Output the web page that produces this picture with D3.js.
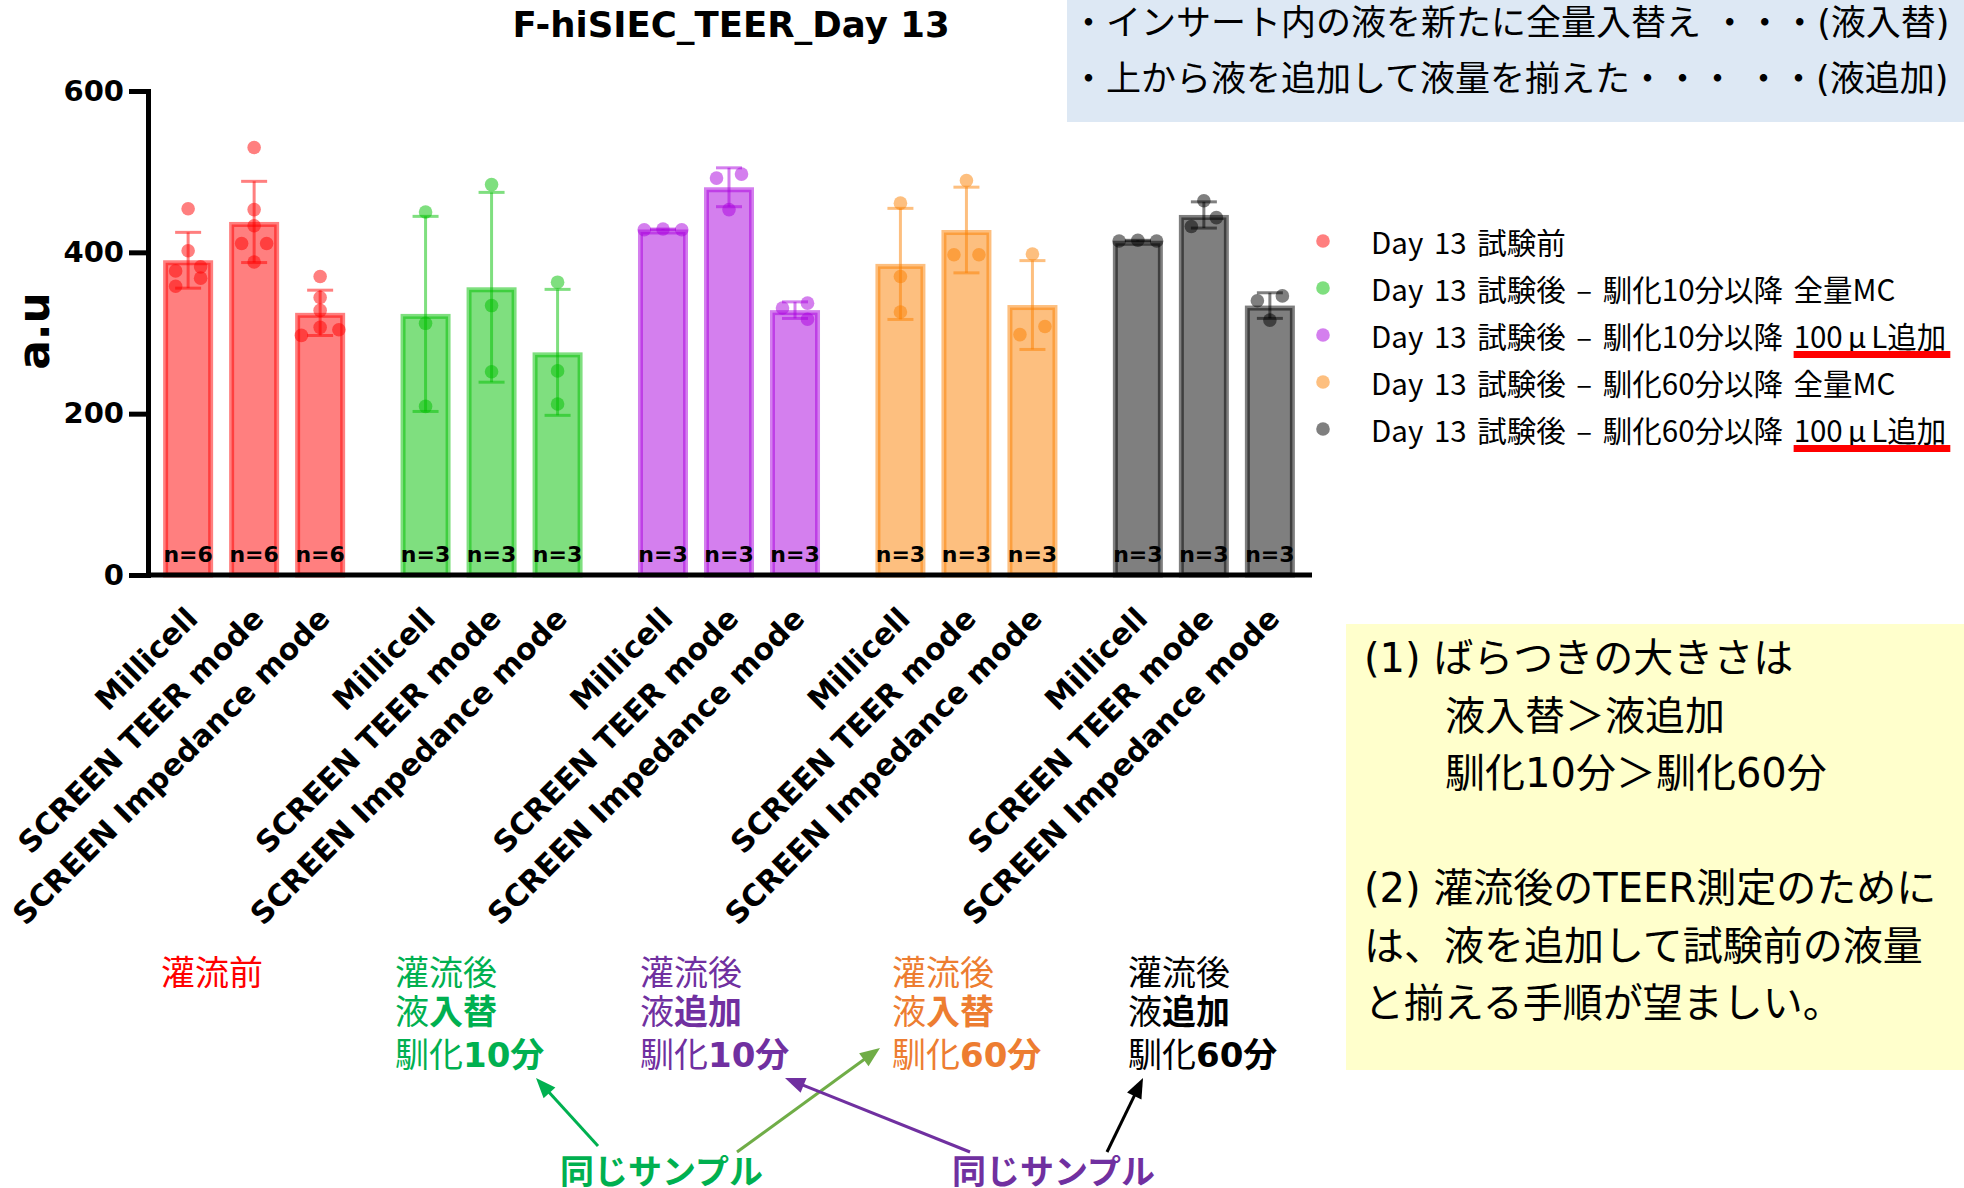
<!DOCTYPE html>
<html><head><meta charset="utf-8">
<script src="https://cdn.jsdelivr.net/npm/d3@7"></script>
<style>
html,body{margin:0;padding:0;background:#fff;}
svg{display:block;}
text{white-space:pre;}
</style></head><body>
<svg id="c" width="1964" height="1188"></svg>
<script>
// ---------------- data ----------------
const yTicks = [0, 200, 400, 600];
const methods = ["Millicell", "SCREEN TEER mode", "SCREEN Impedance mode"];
const legendMain = ["Day 13 試験前", "Day 13 試験後 – 馴化10分以降 全量MC", "Day 13 試験後 – 馴化10分以降 ", "Day 13 試験後 – 馴化60分以降 全量MC", "Day 13 試験後 – 馴化60分以降 "];
const legendUnderlined = [null, null, ["100", "μ", "L追加"], null, ["100", "μ", "L追加"]];
const valuesPre   = [[454,402,382,377,368,358],[530,453,433,411,411,388],[370,344,328,307,304,297]];
const valuesMC10  = [[450,312,209],[484,334,252],[363,253,212]];
const valuesAdd10 = [[429,428,428],[497,492,453],[337,331,317]];
const valuesMC60  = [[461,370,326],[489,397,397],[398,308,298]];
const valuesAdd60 = [[415,414,414],[464,443,432],[346,340,316]];
const seriesValues = [valuesPre, valuesMC10, valuesAdd10, valuesMC60, valuesAdd60];
const condTitle  = ["灌流前", "灌流後", "灌流後", "灌流後", "灌流後"];
const condLiquid = ["", "入替", "追加", "入替", "追加"];
const condTime   = ["", "10分", "10分", "60分", "60分"];
const noteTop = ["・インサート内の液を新たに全量入替え ・・・(液入替)", "・上から液を追加して液量を揃えた・・・ ・・(液追加)"];
const noteBox = ["(1) ばらつきの大きさは", "液入替＞液追加", "馴化10分＞馴化60分", "", "(2) 灌流後のTEER測定のために", "は、液を追加して試験前の液量", "と揃える手順が望ましい。"];
const sameSample = "同じサンプル";
const chartTitle = "F-hiSIEC_TEER_Day 13";
const yLabel = "a.u";

// ---------------- styles ----------------
const seriesColors = ["#ff0000", "#00c000", "#aa00dd", "#fb8000", "#000000"];
const condColors = ["#ff0000", "#00b050", "#7030a0", "#ed7d31", "#000000"];
const LAT = "'DejaVu Sans', Verdana, sans-serif";
const JP = "'Noto Sans CJK JP', 'Noto Sans', sans-serif";
const MEI = "'DejaVu Sans', 'Noto Sans CJK JP', sans-serif";

const svg = d3.select("#c");
svg.append("rect").attr("width", 1964).attr("height", 1188).attr("fill", "#fff");

// ---------------- scales ----------------
const y = d3.scaleLinear().domain([0, 600]).range([575, 91]);
const xg = d3.scaleBand().domain(d3.range(5)).range([148, 1310]).paddingInner(0.166).paddingOuter(0.03);
const xi = d3.scaleBand().domain(d3.range(3)).range([0, xg.bandwidth()]).paddingInner(0.2424).paddingOuter(0.1212);

function jitter(vals) {
  const idx = vals.map((v, i) => i).sort((a, b) => vals[b] - vals[a]);
  const off = new Array(vals.length).fill(0);
  const clusters = [];
  let cur = [idx[0]];
  for (let k = 1; k < idx.length; k++) {
    const gap = y(vals[idx[k]]) - y(vals[idx[k - 1]]);
    if (gap < 12) cur.push(idx[k]); else { clusters.push(cur); cur = [idx[k]]; }
  }
  clusters.push(cur);
  const s = 12.5;
  clusters.forEach(c => {
    if (c.length === 1) return;
    const spread = y(vals[c[c.length - 1]]) - y(vals[c[0]]);
    if (c.length % 2 === 1 && spread < 10) {
      c.forEach((id, k) => { off[id] = k === 0 ? 0 : (k % 2 === 1 ? 1 : -1) * 1.5 * s * Math.ceil(k / 2); });
    } else {
      c.forEach((id, k) => { off[id] = (k % 2 === 0 ? 1 : -1) * s; });
    }
  });
  return off;
}

const bars = [];
seriesValues.forEach((sv, s) => sv.forEach((vals, j) => {
  bars.push({ s, j, vals, mean: d3.mean(vals), sd: d3.deviation(vals), n: vals.length,
              x: xg(s) + xi(j), cx: xg(s) + xi(j) + xi.bandwidth() / 2, off: jitter(vals) });
}));

// ---------------- bars ----------------
const SW = 5;
const gBars = svg.append("g");
gBars.selectAll("rect").data(bars).join("rect")
  .attr("x", d => d.x + SW / 2).attr("width", xi.bandwidth() - SW)
  .attr("y", d => y(d.mean) + SW / 2).attr("height", d => y(0) - y(d.mean) - SW / 2)
  .attr("fill", d => seriesColors[d.s]).attr("fill-opacity", 0.5)
  .attr("stroke", d => seriesColors[d.s]).attr("stroke-opacity", 0.5).attr("stroke-width", SW);

// error bars
const gErr = svg.append("g");
bars.forEach(d => {
  const c = seriesColors[d.s];
  const g = gErr.append("g").attr("stroke", c).attr("stroke-opacity", 0.5).attr("stroke-width", 3);
  g.append("line").attr("x1", d.cx).attr("x2", d.cx).attr("y1", y(d.mean + d.sd)).attr("y2", y(d.mean - d.sd));
  [d.mean + d.sd, d.mean - d.sd].forEach(v => {
    g.append("line").attr("x1", d.cx - 13).attr("x2", d.cx + 13).attr("y1", y(v)).attr("y2", y(v));
  });
});

// dots
const gDots = svg.append("g");
bars.forEach(d => {
  gDots.selectAll(null).data(d.vals.map((v, i) => ({ v, o: d.off[i] }))).join("circle")
    .attr("cx", p => d.cx + p.o).attr("cy", p => y(p.v)).attr("r", 6.8)
    .attr("fill", seriesColors[d.s]).attr("fill-opacity", 0.5);
});

// n labels
svg.append("g").selectAll("text").data(bars).join("text")
  .attr("x", d => d.cx).attr("y", 562).attr("text-anchor", "middle")
  .attr("font-family", LAT).attr("font-weight", "bold").attr("font-size", 22)
  .text(d => "n=" + d.n);

// ---------------- axes ----------------
const yAxis = svg.append("g").attr("transform", "translate(148,0)")
  .call(d3.axisLeft(y).tickValues(yTicks).tickSize(19).tickSizeOuter(0).tickPadding(5));
yAxis.select(".domain").attr("stroke-width", 5).attr("stroke-linecap", "square");
yAxis.selectAll(".tick line").attr("stroke-width", 5);
yAxis.selectAll(".tick text").attr("font-family", LAT).attr("font-weight", "bold").attr("font-size", 29).attr("fill", "#000");

svg.append("line").attr("x1", 148).attr("x2", xg.range()[1] + 2).attr("y1", y(0)).attr("y2", y(0))
  .attr("stroke", "#000").attr("stroke-width", 5);

// x labels
svg.append("g").selectAll("text").data(bars).join("text")
  .attr("transform", d => `translate(${d.cx + 4},613) rotate(-45)`)
  .attr("text-anchor", "end").attr("dy", "0.35em")
  .attr("font-family", LAT).attr("font-weight", "bold").attr("font-size", 30)
  .text(d => methods[d.j]);

// y label
svg.append("text").attr("transform", "translate(34,331) rotate(-90)")
  .attr("text-anchor", "middle").attr("dy", "0.35em")
  .attr("font-family", LAT).attr("font-weight", 900).attr("font-size", 44)
  .text(yLabel);

// title
svg.append("text").attr("x", 731).attr("y", 37).attr("text-anchor", "middle")
  .attr("font-family", LAT).attr("font-weight", "bold").attr("font-size", 35.5)
  .text(chartTitle);

// ---------------- legend ----------------
const gLeg = svg.append("g");
legendMain.forEach((t, i) => {
  const cy = 241 + i * 47;
  gLeg.append("circle").attr("cx", 1323).attr("cy", cy).attr("r", 6.8)
    .attr("fill", seriesColors[i]).attr("fill-opacity", 0.5);
  const tx = gLeg.append("text").attr("x", 1371).attr("y", cy).attr("dominant-baseline", "central")
    .attr("font-family", JP).attr("font-size", 29.5).attr("word-spacing", 4).attr("fill", "#000");
  tx.append("tspan").text(t);
  const u = legendUnderlined[i];
  if (u) {
    const start = tx.node().getComputedTextLength();
    tx.append("tspan").text(u[0]);
    tx.append("tspan").attr("dx", 5).text(u[1]);
    tx.append("tspan").attr("dx", 5).text(u[2]);
    const bb = tx.node().getBBox();
    const end = bb.x + bb.width;
    gLeg.append("rect").attr("x", 1371 + start).attr("width", end - 1371 - start + 4)
      .attr("y", cy + 16).attr("height", 7).attr("fill", "#ff0000");
  }
});

// ---------------- note boxes ----------------
svg.append("rect").attr("x", 1067).attr("y", 0).attr("width", 897).attr("height", 122).attr("fill", "#dde8f4");
noteTop.forEach((t, i) => {
  svg.append("text").attr("x", 1071).attr("y", 23 + i * 56).attr("dominant-baseline", "central")
    .attr("font-family", MEI).attr("font-size", 35).attr("fill", "#000").text(t);
});

svg.append("rect").attr("x", 1346).attr("y", 624).attr("width", 618).attr("height", 446).attr("fill", "#ffffcc");
noteBox.forEach((t, i) => {
  if (!t) return;
  svg.append("text").attr("x", (i === 1 || i === 2) ? 1445 : 1364).attr("y", 658 + i * 57.5)
    .attr("dominant-baseline", "central")
    .attr("font-family", MEI).attr("font-size", 40).attr("fill", "#000").text(t);
});

// ---------------- condition labels ----------------
const condX = [161, 395, 640, 892, 1128];
condTitle.forEach((t, i) => {
  const g = svg.append("g").attr("font-family", MEI).attr("font-size", 34).attr("fill", condColors[i]);
  g.append("text").attr("x", condX[i]).attr("y", 973).attr("dominant-baseline", "central").text(t);
  if (condLiquid[i]) {
    const t2 = g.append("text").attr("x", condX[i]).attr("y", 1012).attr("dominant-baseline", "central");
    t2.append("tspan").text("液");
    t2.append("tspan").attr("font-weight", "bold").text(condLiquid[i]);
    const t3 = g.append("text").attr("x", condX[i]).attr("y", 1055).attr("dominant-baseline", "central");
    t3.append("tspan").text("馴化");
    t3.append("tspan").attr("font-weight", "bold").text(condTime[i]);
  }
});

// same-sample labels
[[560, "#00b050"], [952, "#7030a0"]].forEach(([x, c]) => {
  svg.append("text").attr("x", x).attr("y", 1169).attr("dominant-baseline", "central")
    .attr("font-family", JP).attr("font-weight", "bold").attr("font-size", 34).attr("fill", c).text(sameSample);
});

// arrows
const arrows = [
  [598, 1146, 536, 1078, "#00b050"],
  [737, 1152, 880, 1048, "#70ad47"],
  [970, 1152, 785, 1078, "#7030a0"],
  [1107, 1152, 1143, 1078, "#000000"]
];
arrows.forEach(([x1, y1, x2, y2, c]) => {
  const dx = x2 - x1, dy = y2 - y1, L = Math.hypot(dx, dy), ux = dx / L, uy = dy / L;
  const hl = 20, hw = 8;
  const bx = x2 - ux * hl, by = y2 - uy * hl;
  svg.append("line").attr("x1", x1).attr("y1", y1).attr("x2", bx + ux * 2).attr("y2", by + uy * 2)
    .attr("stroke", c).attr("stroke-width", 3);
  svg.append("path").attr("d", `M${x2},${y2}L${bx - uy * hw},${by + ux * hw}L${bx + uy * hw},${by - ux * hw}Z`)
    .attr("fill", c);
});
</script>
</body></html>
